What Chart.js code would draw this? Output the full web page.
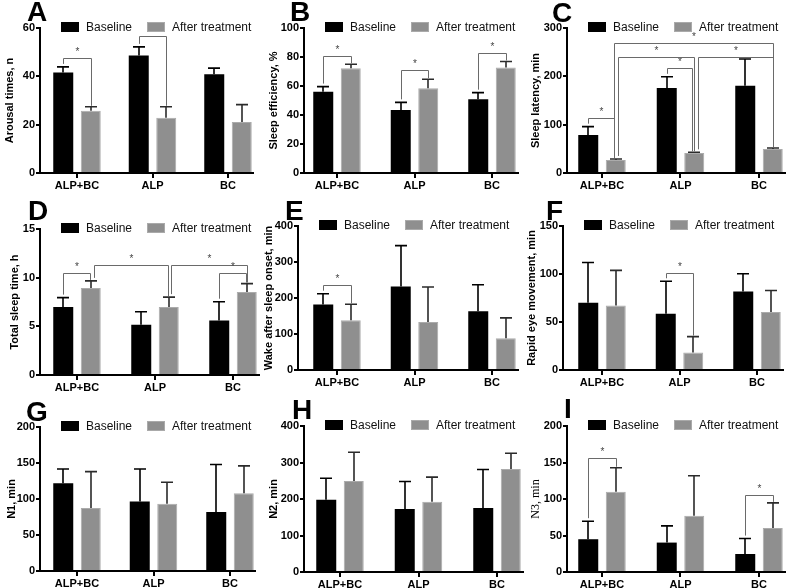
<!DOCTYPE html>
<html>
<head>
<meta charset="utf-8">
<script src="https://cdn.jsdelivr.net/npm/chart.js@4.4.1/dist/chart.umd.min.js"></script>
<style>
body { margin: 0; background: #fff; width: 787px; height: 588px; position: relative; overflow: hidden; }
.panel { position: absolute; }
.letter { position: absolute; font-family: "Liberation Sans", Arial, sans-serif; font-weight: bold; font-size: 28px; line-height: 1; color: #000; }
</style>
</head>
<body>
<script>
// --- Data ---
const categories = ['ALP+BC', 'ALP', 'BC'];
const seriesNames = ['Baseline', 'After treatment'];

// A: arousal times
const arousalBase = [41.6, 48.6, 40.9];
const arousalBaseSD = [2.3, 3.6, 2.5];
const arousalAfter = [25.8, 22.9, 21.1];
const arousalAfterSD = [1.6, 4.5, 7.2];
// significance brackets: [dataset, category] -> [dataset, category] at level
const arousalSig = [
    { a: [0, 0], b: [1, 0], level: 47.5 },
    { a: [0, 1], b: [1, 1], level: 56.5 }
];

// B: sleep efficiency
const effBase = [56.1, 43.4, 50.8];
const effBaseSD = [3.5, 5.3, 4.6];
const effAfter = [72.3, 58.4, 72.7];
const effAfterSD = [2.7, 6.3, 4.2];
const effSig = [
    { a: [0, 0], b: [1, 0], level: 80.4 },
    { a: [0, 1], b: [1, 1], level: 70.7 },
    { a: [0, 2], b: [1, 2], level: 82.7 }
];

// C: sleep latency
const latBase = [78.6, 175.9, 180.7];
const latBaseSD = [17.3, 23.1, 55.2];
const latAfter = [26.9, 41.4, 49.7];
const latAfterSD = [2.1, 1.4, 2.0];
const latSig = [
    { a: [0, 0], b: [1, 0], level: 113, dxb: -2 },
    { a: [0, 1], b: [1, 1], level: 216.6, dxb: -2 },
    { a: [1, 0], b: [1, 1], level: 241, dxa: 2 },
    { a: [1, 1], b: [1, 2], level: 241, dxa: 4 },
    { a: [1, 0], b: [1, 2], level: 270, dxa: -2 }
];

// D: total sleep time
const tstBase = [6.98, 5.16, 5.6];
const tstBaseSD = [0.97, 1.34, 1.93];
const tstAfter = [8.94, 6.98, 8.53];
const tstAfterSD = [0.73, 1.02, 0.86];
const tstSig = [
    { a: [0, 0], b: [1, 0], level: 10.5, dxb: -1 },
    { a: [1, 0], b: [1, 1], level: 11.35, dxa: 3, dxb: -1 },
    { a: [1, 1], b: [1, 2], level: 11.35, dxa: 2 },
    { a: [0, 2], b: [1, 2], level: 10.5, dxb: -1 }
];

// E: wake after sleep onset
const wasoBase = [181.6, 232, 163];
const wasoBaseSD = [30.4, 113.6, 74];
const wasoAfter = [138, 133.6, 88.5];
const wasoAfterSD = [44.5, 96.8, 56.2];
const wasoSig = [{ a: [0, 0], b: [1, 0], level: 236.9 }];

// F: rapid eye movement
const remBase = [70, 58.6, 81.7];
const remBaseSD = [42, 33.8, 18.6];
const remAfter = [67.2, 18.3, 60.3];
const remAfterSD = [36.6, 16.5, 22.5];
const remSig = [{ a: [0, 1], b: [1, 1], level: 101 }];

// G: N1
const n1Base = [121.8, 96.6, 82];
const n1BaseSD = [19.8, 45, 66];
const n1After = [87.4, 93.3, 108];
const n1AfterSD = [50.6, 29.9, 38];

// H: N2
const n2Base = [198, 172.7, 175.5];
const n2BaseSD = [59, 75.3, 105.5];
const n2After = [249, 192.7, 282];
const n2AfterSD = [79, 67.3, 43.5];

// I: N3
const n3Base = [44.9, 40.3, 24.7];
const n3BaseSD = [24.7, 22.9, 21.1];
const n3After = [109.8, 76.9, 60.4];
const n3AfterSD = [33, 54.9, 34.3];
const n3Sig = [
    { a: [0, 0], b: [1, 0], level: 155.6 },
    { a: [0, 2], b: [1, 2], level: 106 }
];

// --- Layout ---
const FONT = '"Liberation Sans", Arial, sans-serif';
const colLeft = [0, 262, 524];
const colWidth = [262, 262, 263];
const rowTop = [0, 196, 392];
const PANEL_H = 196;
const BASE_COLOR = '#000000';
const AFTER_COLOR = '#8f8f8f';

const panels = [
    { letter: 'A', lx: 27, ly: -2, col: 0, row: 0, axisX: 40, top: 28, zero: 173, c0: 77, s: 75.5, tp: 3,
      title: 'Arousal times, n', max: 60, step: 20,
      base: arousalBase, baseSD: arousalBaseSD, after: arousalAfter, afterSD: arousalAfterSD, sig: arousalSig },
    { letter: 'B', lx: 290, ly: -2, col: 1, row: 0, axisX: 304, top: 28, zero: 173, c0: 337, s: 77.5, tp: 5,
      title: 'Sleep efficiency, %', max: 100, step: 20,
      base: effBase, baseSD: effBaseSD, after: effAfter, afterSD: effAfterSD, sig: effSig },
    { letter: 'C', lx: 552, ly: -1, col: 2, row: 0, axisX: 567, top: 28, zero: 173, c0: 602, s: 78.5, tp: 5,
      title: 'Sleep latency, min', max: 300, step: 100,
      base: latBase, baseSD: latBaseSD, after: latAfter, afterSD: latAfterSD, sig: latSig },
    { letter: 'D', lx: 28, ly: 197, col: 0, row: 1, axisX: 40, top: 229, zero: 375, c0: 77, s: 78, tp: 8,
      title: 'Total sleep time, h', max: 15, step: 5,
      base: tstBase, baseSD: tstBaseSD, after: tstAfter, afterSD: tstAfterSD, sig: tstSig },
    { letter: 'E', lx: 285, ly: 197, col: 1, row: 1, axisX: 298, top: 226, zero: 370, c0: 337, s: 77.5, tp: 0,
      title: 'Wake after sleep onset, min', max: 400, step: 100,
      base: wasoBase, baseSD: wasoBaseSD, after: wasoAfter, afterSD: wasoAfterSD, sig: wasoSig },
    { letter: 'F', lx: 546, ly: 197, col: 2, row: 1, axisX: 563, top: 226, zero: 370, c0: 602, s: 77.5, tp: 1,
      title: 'Rapid eye movement, min', max: 150, step: 50,
      base: remBase, baseSD: remBaseSD, after: remAfter, afterSD: remAfterSD, sig: remSig },
    { letter: 'G', lx: 26, ly: 398, col: 0, row: 2, axisX: 40, top: 427, zero: 571, c0: 77, s: 76.5, tp: 5,
      title: 'N1, min', max: 200, step: 50,
      base: n1Base, baseSD: n1BaseSD, after: n1After, afterSD: n1AfterSD, sig: [] },
    { letter: 'H', lx: 292, ly: 396, col: 1, row: 2, axisX: 304, top: 426, zero: 572, c0: 340, s: 78.5, tp: 5,
      title: 'N2, min', max: 400, step: 100,
      base: n2Base, baseSD: n2BaseSD, after: n2After, afterSD: n2AfterSD, sig: [] },
    { letter: 'I', lx: 564, ly: 395, col: 2, row: 2, axisX: 567, top: 426, zero: 572, c0: 602, s: 78.5, tp: 5,
      title: 'N3, min', max: 200, step: 50, serifTitle: true,
      base: n3Base, baseSD: n3BaseSD, after: n3After, afterSD: n3AfterSD, sig: n3Sig }
];

const X_RIGHT = 0.33;

// draws error bars, significance brackets and the in-plot legend
function makeOverlay(p) {
    return {
        id: 'overlay',
        afterDatasetsDraw(chart) {
            const ctx = chart.ctx;
            const yScale = chart.scales.y;
            const means = [p.base, p.after];
            const sds = [p.baseSD, p.afterSD];
            const errTopPx = (d, i) => yScale.getPixelForValue(means[d][i] + sds[d][i]);
            const barX = (d, i) => chart.getDatasetMeta(d).data[i].x;

            ctx.save();
            // error bars
            [0, 1].forEach(d => {
                ctx.strokeStyle = d === 0 ? '#000' : '#2b2b2b';
                ctx.lineWidth = 1.6;
                chart.getDatasetMeta(d).data.forEach((bar, i) => {
                    const x = Math.round(bar.x);
                    const y1 = errTopPx(d, i);
                    ctx.beginPath();
                    ctx.moveTo(x, bar.y);
                    ctx.lineTo(x, y1);
                    ctx.moveTo(x - 6, y1);
                    ctx.lineTo(x + 6, y1);
                    ctx.stroke();
                });
            });

            // significance brackets
            ctx.strokeStyle = '#6a6a6a';
            ctx.lineWidth = 1;
            ctx.fillStyle = '#444';
            ctx.font = '10px ' + FONT;
            ctx.textAlign = 'center';
            ctx.textBaseline = 'middle';
            p.sig.forEach(s => {
                const xa = Math.round(barX(s.a[0], s.a[1]) + (s.dxa || 0)) + 0.5;
                const xb = Math.round(barX(s.b[0], s.b[1]) + (s.dxb || 0)) + 0.5;
                const ya = errTopPx(s.a[0], s.a[1]) - 3;
                const yb = errTopPx(s.b[0], s.b[1]) - 1;
                const yl = Math.round(yScale.getPixelForValue(s.level)) + 0.5;
                ctx.beginPath();
                ctx.moveTo(xa, ya);
                ctx.lineTo(xa, yl);
                ctx.lineTo(xb, yl);
                ctx.lineTo(xb, yb);
                ctx.stroke();
                ctx.fillText('*', (xa + xb) / 2, yl - 6);
            });

            // legend
            const area = chart.chartArea;
            const boxes = [
                { dx: 21, color: BASE_COLOR, border: null, text: seriesNames[0] },
                { dx: 107, color: AFTER_COLOR, border: '#aaaaaa', text: seriesNames[1] }
            ];
            ctx.font = '12px ' + FONT;
            ctx.textAlign = 'left';
            ctx.textBaseline = 'middle';
            boxes.forEach(b => {
                const bx = area.left + b.dx;
                const by = area.top - 6;
                ctx.fillStyle = b.color;
                ctx.fillRect(bx, by, 18, 10);
                if (b.border) {
                    ctx.strokeStyle = b.border;
                    ctx.lineWidth = 1;
                    ctx.strokeRect(bx + 0.5, by + 0.5, 17, 9);
                }
                ctx.fillStyle = '#111';
                ctx.fillText(b.text, bx + 25, area.top - 0.5);
            });
            ctx.restore();
        }
    };
}

panels.forEach(p => {
    const left = colLeft[p.col];
    const top = rowTop[p.row];
    const w = colWidth[p.col];

    const holder = document.createElement('div');
    holder.className = 'panel';
    holder.style.left = left + 'px';
    holder.style.top = top + 'px';
    holder.style.width = w + 'px';
    holder.style.height = PANEL_H + 'px';
    const canvas = document.createElement('canvas');
    canvas.width = w;
    canvas.height = PANEL_H;
    canvas.style.width = w + 'px';
    canvas.style.height = PANEL_H + 'px';
    holder.appendChild(canvas);
    document.body.appendChild(holder);

    const letter = document.createElement('div');
    letter.className = 'letter';
    letter.textContent = p.letter;
    letter.style.left = p.lx + 'px';
    letter.style.top = p.ly + 'px';
    document.body.appendChild(letter);

    const yW = p.axisX - left;
    const xMin = -(p.c0 - p.axisX) / p.s;
    const areaRight = p.axisX + (2 - xMin + X_RIGHT) * p.s;
    const padRight = Math.max(0, left + w - areaRight);
    const xH = top + PANEL_H - p.zero;
    const catPct = 55 / p.s;

    new Chart(canvas, {
        type: 'bar',
        data: {
            datasets: [{
                label: seriesNames[0],
                data: p.base.map((v, i) => ({ x: i, y: v })),
                backgroundColor: BASE_COLOR,
                borderWidth: 0,
                categoryPercentage: catPct,
                barPercentage: 0.727
            }, {
                label: seriesNames[1],
                data: p.after.map((v, i) => ({ x: i, y: v })),
                backgroundColor: AFTER_COLOR,
                borderColor: '#ababab',
                borderWidth: 1,
                categoryPercentage: catPct,
                barPercentage: 0.727
            }]
        },
        options: {
            responsive: false,
            animation: false,
            devicePixelRatio: 1,
            layout: { padding: { top: p.top - top, right: padRight, left: 0, bottom: 0 } },
            plugins: { legend: { display: false }, tooltip: { enabled: false } },
            scales: {
                x: {
                    type: 'linear',
                    offset: false,
                    min: xMin,
                    max: 2 + X_RIGHT,
                    afterBuildTicks: sc => { sc.ticks = categories.map((c, i) => ({ value: i })); },
                    afterFit: sc => { sc.height = xH; },
                    ticks: {
                        callback: v => categories[v],
                        font: { family: FONT, weight: 'bold', size: 11 },
                        color: '#000',
                        padding: 1,
                        maxRotation: 0,
                        autoSkip: false
                    },
                    grid: { display: true, offset: false, drawOnChartArea: false, drawTicks: true, tickLength: 5, color: '#000', lineWidth: 2 },
                    border: { display: true, color: '#000', width: 2 }
                },
                y: {
                    min: 0,
                    max: p.max,
                    afterFit: sc => { sc.width = yW; },
                    ticks: {
                        stepSize: p.step,
                        font: { family: FONT, weight: 'bold', size: 11 },
                        color: '#000',
                        padding: 1
                    },
                    grid: { display: true, drawOnChartArea: false, drawTicks: true, tickLength: 4, color: '#000', lineWidth: 2 },
                    border: { display: true, color: '#000', width: 2 },
                    title: {
                        display: true,
                        text: p.title,
                        color: '#000',
                        font: p.serifTitle
                            ? { family: '"Liberation Serif", "Times New Roman", serif', size: 12 }
                            : { family: FONT, weight: 'bold', size: 11 },
                        padding: { top: p.tp, bottom: 0 }
                    }
                }
            }
        },
        plugins: [makeOverlay(p)]
    });
});
</script>
</body>
</html>
